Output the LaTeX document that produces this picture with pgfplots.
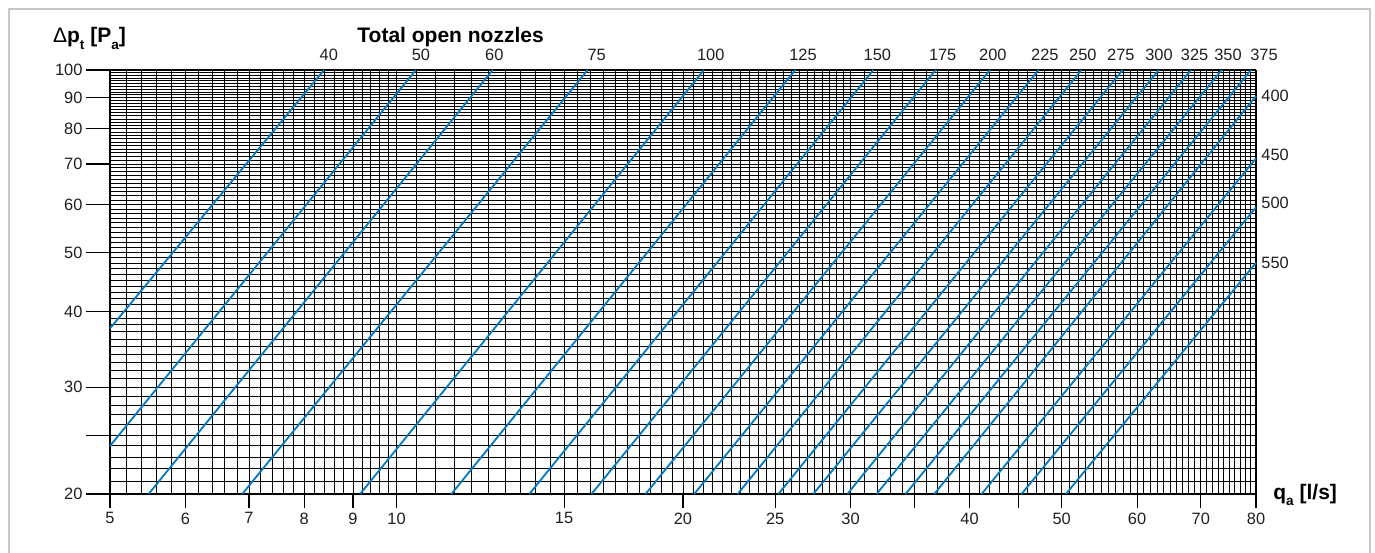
\documentclass[border=0pt]{standalone}
\usepackage{pgfplots}
\pgfplotsset{compat=1.18}
\usepackage{fontspec}
\setmainfont{Liberation Sans}
\definecolor{lineblue}{RGB}{0,122,195}
\definecolor{framegray}{RGB}{200,200,200}
\newcommand{\sub}[1]{\raisebox{-0.6ex}{\fontsize{6.8}{7}\selectfont #1}}
\begin{document}
\begin{tikzpicture}
\path[use as bounding box] (0,0) rectangle (687.5pt,276pt);
\draw[framegray, line width=1pt] (4.5pt,-3pt) -- (4.5pt,271.5pt) -- (685pt,271.5pt) -- (685pt,-3pt);
\begin{axis}[
  at={(55pt,29pt)}, anchor=south west,
  scale only axis, width=573pt, height=212pt,
  xmode=log, ymode=log,
  xmin=5, xmax=80, ymin=20, ymax=100,
  clip=false,
  xtick={5,6,7,8,9,10,15,20,25,30,35,40,45,50,60,70,80},
  xticklabels={5,6,7,8,9,10,15,20,25,30,,40,,50,60,70,80},
  ytick={20,25,30,40,50,60,70,80,90,100},
  yticklabels={20,,30,40,50,60,70,80,90,100},
  minor xtick={5.2,5.4,...,9.9,10.5,11,...,29.9,31,32,...,79.5},
  minor ytick={21,22,...,99.5},
  grid=both,
  major grid style={black, line width=0.45pt},
  minor grid style={black, line width=0.45pt},
  tick align=outside,
  xtick pos=lower, ytick pos=left,
  minor tick length=0pt,
  xtick style={black, line width=0.6pt, /pgfplots/major tick length=7pt},
  ytick style={black, line width=0.6pt, /pgfplots/major tick length=12pt},
  tick label style={font=\fontsize{8.2}{9}\selectfont, text=black!88},
  yticklabel style={xshift=-6pt},
  xticklabel style={yshift=-1.5pt},
  /pgf/number format/assume math mode=true,
  axis line style={line width=0.5pt},
  separate axis lines,
  every outer x axis line/.append style={line width=1pt},
  every outer y axis line/.append style={line width=0.6pt},
  blue/.style={lineblue, line width=0.9pt},
]
\addplot[blue] coordinates {(5,37.5) (8.392,100)};
\addplot[blue] coordinates {(5,24.0) (10.48,100)};
\addplot[blue] coordinates {(5.49,20) (12.62,100)};
\addplot[blue] coordinates {(6.886,20) (15.88,100)};
\addplot[blue] coordinates {(9.157,20) (21.04,100)};
\addplot[blue] coordinates {(11.42,20) (26.24,100)};
\addplot[blue] coordinates {(13.79,20) (31.70,100)};
\addplot[blue] coordinates {(16.03,20) (36.86,100)};
\addplot[blue] coordinates {(18.27,20) (42.03,100)};
\addplot[blue] coordinates {(20.55,20) (47.28,100)};
\addplot[blue] coordinates {(22.83,20) (52.45,100)};
\addplot[blue] coordinates {(25.19,20) (57.94,100)};
\addplot[blue] coordinates {(27.41,20) (63.22,100)};
\addplot[blue] coordinates {(29.77,20) (68.35,100)};
\addplot[blue] coordinates {(31.95,20) (73.62,100)};
\addplot[blue] coordinates {(34.27,20) (79.04,100)};
\addplot[blue] coordinates {(36.74,20) (80,90.6)};
\addplot[blue] coordinates {(41.19,20) (80,71.5)};
\addplot[blue] coordinates {(45.37,20) (80,59.4)};
\addplot[blue] coordinates {(50.51,20) (80,48.1)};
% top labels (total open nozzles)
\addplot[only marks, mark=none, nodes near coords, point meta=explicit symbolic,
  every node near coord/.style={anchor=base, yshift=4.5pt, inner sep=0pt, font=\fontsize{8.2}{9}\selectfont, text=black!88}]
  table[x=x, y=y, meta=lab] {
x y lab
8.49 100 40
10.61 100 50
12.67 100 60
16.23 100 75
21.39 100 100
26.74 100 125
32.01 100 150
37.49 100 175
42.33 100 200
48.00 100 225
52.62 100 250
57.70 100 275
63.26 100 300
68.96 100 325
74.76 100 350
81.56 100 375
};
% right labels
\addplot[only marks, mark=none, nodes near coords, point meta=explicit symbolic,
  every node near coord/.style={anchor=west, xshift=2.5pt, inner sep=0pt, font=\fontsize{8.2}{9}\selectfont, text=black!88}]
  table[x=x, y=y, meta=lab] {
x y lab
80 90.6 400
80 72.6 450
80 60.5 500
80 48.06 550
};
\end{axis}
\node[anchor=base west, inner sep=0pt, font=\fontsize{10.5}{12}\selectfont\bfseries] at (26.35pt,254.65pt) {{\mdseries Δ}p\sub{t} [P\sub{a}]};
\node[anchor=base west, inner sep=0pt, font=\fontsize{10.5}{12}\selectfont\bfseries] at (178.5pt,254.65pt) {Total open nozzles};
\node[anchor=base west, inner sep=0pt, font=\fontsize{10.5}{12}\selectfont\bfseries] at (636.5pt,26.35pt) {q\sub{a} [l/s]};
\end{tikzpicture}
\end{document}
